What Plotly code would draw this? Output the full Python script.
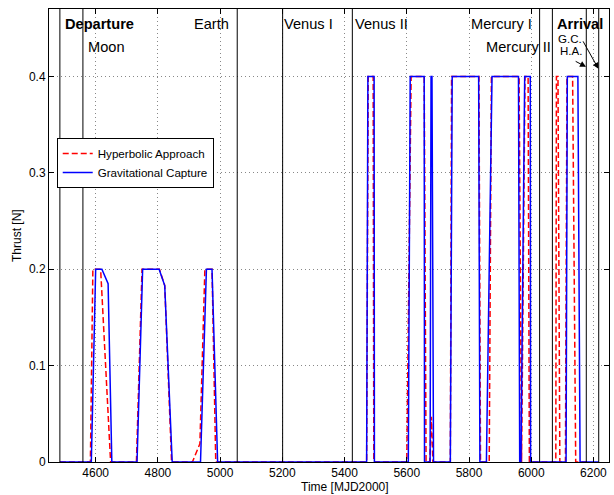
import plotly.graph_objects as go

# ---------------- data ----------------
# Hyperbolic Approach (red dashed)
ha_t = [4485, 4583, 4591, 4616, 4648, 4731, 4749, 4805, 4822, 4844,
        4911, 4935, 4951, 4974, 4986, 5471, 5476, 5492, 5494,
        5600, 5614, 5656, 5662, 5674, 5679, 5684, 5740, 5744, 5832, 5837,
        5865, 5872, 5961, 5967, 5969, 5980, 5990, 5994,
        6079, 6081, 6086, 6092, 6110, 6115, 6133, 6143, 6177]
ha_thrust = [0, 0, 0.2, 0.2, 0, 0, 0.2, 0.2, 0.183, 0,
             0, 0.019, 0.2, 0.2, 0, 0, 0.4, 0.4, 0,
             0, 0.4, 0.4, 0, 0, 0.047, 0, 0, 0.4, 0.4, 0,
             0, 0.4, 0.4, 0, 0, 0.4, 0.4, 0,
             0, 0.4, 0.4, 0, 0, 0.4, 0.4, 0, 0]

# Gravitational Capture (blue solid)
gc_t = [4485, 4586, 4600, 4620, 4640, 4652, 4733, 4751, 4804, 4822, 4846,
        4937, 4956, 4974, 4992, 5471, 5475, 5495, 5496,
        5605, 5611, 5656, 5657, 5675, 5678, 5681, 5686,
        5740, 5746, 5831, 5835, 5856, 5874, 5959, 5963,
        5967, 5979, 5997, 5998, 6112, 6116, 6150, 6157, 6217]
gc_thrust = [0, 0, 0.2, 0.2, 0.185, 0, 0, 0.2, 0.2, 0.183, 0,
             0, 0.2, 0.2, 0, 0, 0.4, 0.4, 0,
             0, 0.4, 0.4, 0, 0, 0.4, 0.4, 0,
             0, 0.4, 0.4, 0, 0, 0.4, 0.4, 0,
             0, 0.4, 0.4, 0, 0, 0.4, 0.4, 0, 0]

# mission events (vertical lines)
event_times = [4485, 4559, 5055, 5201, 5425, 6027, 6068, 6177, 6217]

# event labels: text, left x, y, bold
label_texts = ["Departure", "Moon", "Earth", "Venus I", "Venus II",
               "Mercury I", "Mercury II", "Arrival"]
label_x = [4498, 4572, 4913, 5203, 5431, 5804, 5850, 6081]
label_y = [0.4545, 0.431, 0.4545, 0.4545, 0.4545, 0.4545, 0.431, 0.4545]
label_bold = [True, False, False, False, False, False, False, True]

# arrival sub-labels with arrows
arr_texts = ["G.C.", "H.A."]
arr_text_x = [6083, 6088]
arr_text_y = [0.4385, 0.426]
arr_tail_x = [6164, 6138]
arr_tail_y = [0.438, 0.4165]
arr_head_x = [6216, 6176]
arr_head_y = [0.408, 0.410]

x_ticks = [4600, 4800, 5000, 5200, 5400, 5600, 5800, 6000, 6200]
y_ticks = [0, 0.1, 0.2, 0.3, 0.4]
y_tick_text = ["0", "0.1", "0.2", "0.3", "0.4"]

FONT = "Liberation Sans, Arial, Helvetica, sans-serif"

fig = go.Figure()
fig.add_trace(go.Scatter(x=ha_t, y=ha_thrust, mode="lines",
                         name="Hyperbolic Approach",
                         line=dict(color="#ff0000", width=1.5, dash="6px,3px")))
fig.add_trace(go.Scatter(x=gc_t, y=gc_thrust, mode="lines",
                         name="Gravitational Capture",
                         line=dict(color="#0000ff", width=1.5)))

shapes = []
for t in event_times:
    shapes.append(dict(type="line", xref="x", yref="paper", x0=t, x1=t,
                       y0=0, y1=1, line=dict(color="black", width=1)))

annotations = []
for txt, x, y, b in zip(label_texts, label_x, label_y, label_bold):
    annotations.append(dict(x=x, y=y, xref="x", yref="y",
                            text=f"<b>{txt}</b>" if b else txt,
                            showarrow=False, xanchor="left", yanchor="middle",
                            borderpad=0,
                            font=dict(family=FONT, size=14.6, color="black")))
for txt, x, y in zip(arr_texts, arr_text_x, arr_text_y):
    annotations.append(dict(x=x, y=y, xref="x", yref="y", text=txt,
                            showarrow=False, xanchor="left", yanchor="middle",
                            borderpad=0,
                            font=dict(family=FONT, size=11.5, color="black")))
for tx, ty, hx, hy in zip(arr_tail_x, arr_tail_y, arr_head_x, arr_head_y):
    annotations.append(dict(x=hx, y=hy, xref="x", yref="y",
                            ax=tx, ay=ty, axref="x", ayref="y", text="",
                            showarrow=True, arrowhead=2, arrowsize=1.2,
                            arrowwidth=1, arrowcolor="black"))

# axis titles
annotations.append(dict(x=(345 - 49.3) / 559.2, y=0.0, xref="paper", yref="paper",
                        text="Time [MJD2000]", showarrow=False,
                        xanchor="center", yanchor="middle", yshift=-25,
                        font=dict(family=FONT, size=12, color="black")))
annotations.append(dict(x=-0.058, y=0.5, xref="paper", yref="paper",
                        text="Thrust [N]", showarrow=False, textangle=-90,
                        xanchor="center", yanchor="middle",
                        font=dict(family=FONT, size=12, color="black")))

fig.update_layout(
    width=614, height=495,
    margin=dict(l=49, r=5, t=9, b=33),
    paper_bgcolor="white", plot_bgcolor="white",
    font=dict(family=FONT, size=12, color="black"),
    shapes=shapes, annotations=annotations,
    legend=dict(x=0.0138, y=0.715, xanchor="left", yanchor="top",
                bgcolor="white", bordercolor="black", borderwidth=1,
                font=dict(family=FONT, size=11.6, color="black"),
                tracegroupgap=0),
    showlegend=True,
)
axis_common = dict(ticks="inside", ticklen=5, tickcolor="black",
                   showline=True, linecolor="black", linewidth=1, mirror="allticks",
                   showgrid=True, gridcolor="#888888", griddash="1px,3px", gridwidth=1,
                   zeroline=False, automargin=False,
                   tickfont=dict(family=FONT, size=12))
fig.update_xaxes(range=[4450, 6250], tickvals=x_ticks, **axis_common)
fig.update_yaxes(range=[0, 0.47], tickvals=y_ticks, ticktext=y_tick_text, **axis_common)

fig.write_html("out.html", config={"displayModeBar": False},
               post_script="document.body.style.margin='0';document.body.style.overflow='hidden';")
